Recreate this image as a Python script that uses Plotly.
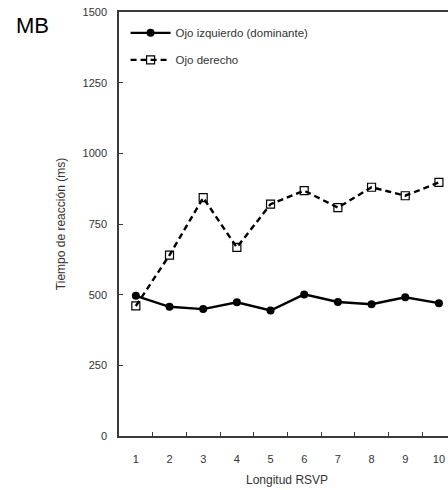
import plotly.graph_objects as go

# Longitud de la secuencia RSVP
longitud = ["1", "2", "3", "4", "5", "6", "7", "8", "9", "10"]

# Tiempos de reacción medios (ms)
ojo_izquierdo = [496, 457, 449, 473, 444, 501, 474, 466, 491, 470]
ojo_derecho = [460, 640, 843, 667, 820, 868, 808, 880, 850, 897]

y_ticks = [0, 250, 500, 750, 1000, 1250, 1500]

FONT = "Liberation Sans, Arial, sans-serif"
AXIS_COLOR = "#3a3a3a"
TEXT_COLOR = "#333333"

fig = go.Figure()

fig.add_trace(go.Scatter(
    x=longitud, y=ojo_izquierdo,
    name="Ojo izquierdo (dominante)",
    mode="lines+markers",
    line=dict(color="black", width=2.4),
    marker=dict(symbol="circle", size=8, color="black"),
    legendgroup="a",
    cliponaxis=False,
))

fig.add_trace(go.Scatter(
    x=longitud, y=ojo_derecho,
    name="Ojo derecho",
    mode="lines+markers",
    line=dict(color="black", width=2.4, dash="6px,4px"),
    marker=dict(symbol="square-open", size=8, color="black",
                line=dict(width=1.2, color="black")),
    legendgroup="b",
    cliponaxis=False,
))

fig.update_layout(
    width=448, height=490,
    margin=dict(l=119, r=0, t=12, b=54),
    paper_bgcolor="white",
    plot_bgcolor="white",
    font=dict(family=FONT, size=11, color=TEXT_COLOR),
    showlegend=True,
    legend=dict(
        x=0.02, y=0.985, xanchor="left", yanchor="top",
        bgcolor="rgba(0,0,0,0)",
        font=dict(family=FONT, size=11.5, color=TEXT_COLOR),
        traceorder="grouped",
        tracegroupgap=8,
        itemwidth=40,
    ),
    xaxis=dict(
        type="category",
        range=[-0.5, 9.27],
        tickson="boundaries",
        ticks="inside",
        ticklen=4,
        tickcolor=AXIS_COLOR,
        showline=True,
        linecolor=AXIS_COLOR,
        linewidth=1.5,
        mirror=True,
        showgrid=False,
        zeroline=False,
        ticklabelstandoff=12,
        tickfont=dict(family=FONT, size=11, color=TEXT_COLOR),
    ),
    yaxis=dict(
        range=[0, 1500],
        tickvals=y_ticks,
        ticktext=[str(v) for v in y_ticks],
        ticks="inside",
        ticklen=4,
        tickcolor=AXIS_COLOR,
        showline=True,
        linecolor=AXIS_COLOR,
        linewidth=1.5,
        showgrid=False,
        zeroline=False,
        ticklabelstandoff=8,
        tickfont=dict(family=FONT, size=11, color=TEXT_COLOR),
        title=dict(text="Tiempo de reacción (ms)",
                   font=dict(family=FONT, size=12, color=TEXT_COLOR),
                   standoff=14),
    ),
)

# Título del eje X, centrado en el área completa del gráfico
fig.add_annotation(
    x=4.5, xref="x", y=0, yref="paper",
    yshift=-44, yanchor="middle",
    text="Longitud RSVP", showarrow=False,
    font=dict(family=FONT, size=12, color=TEXT_COLOR),
)

# Etiqueta del panel
fig.add_annotation(
    x=-0.32, xref="paper", xanchor="left",
    y=0.968, yref="paper", yanchor="middle",
    text="MB", showarrow=False,
    font=dict(family=FONT, size=22, color="black"),
)

fig.write_html("out.html")
